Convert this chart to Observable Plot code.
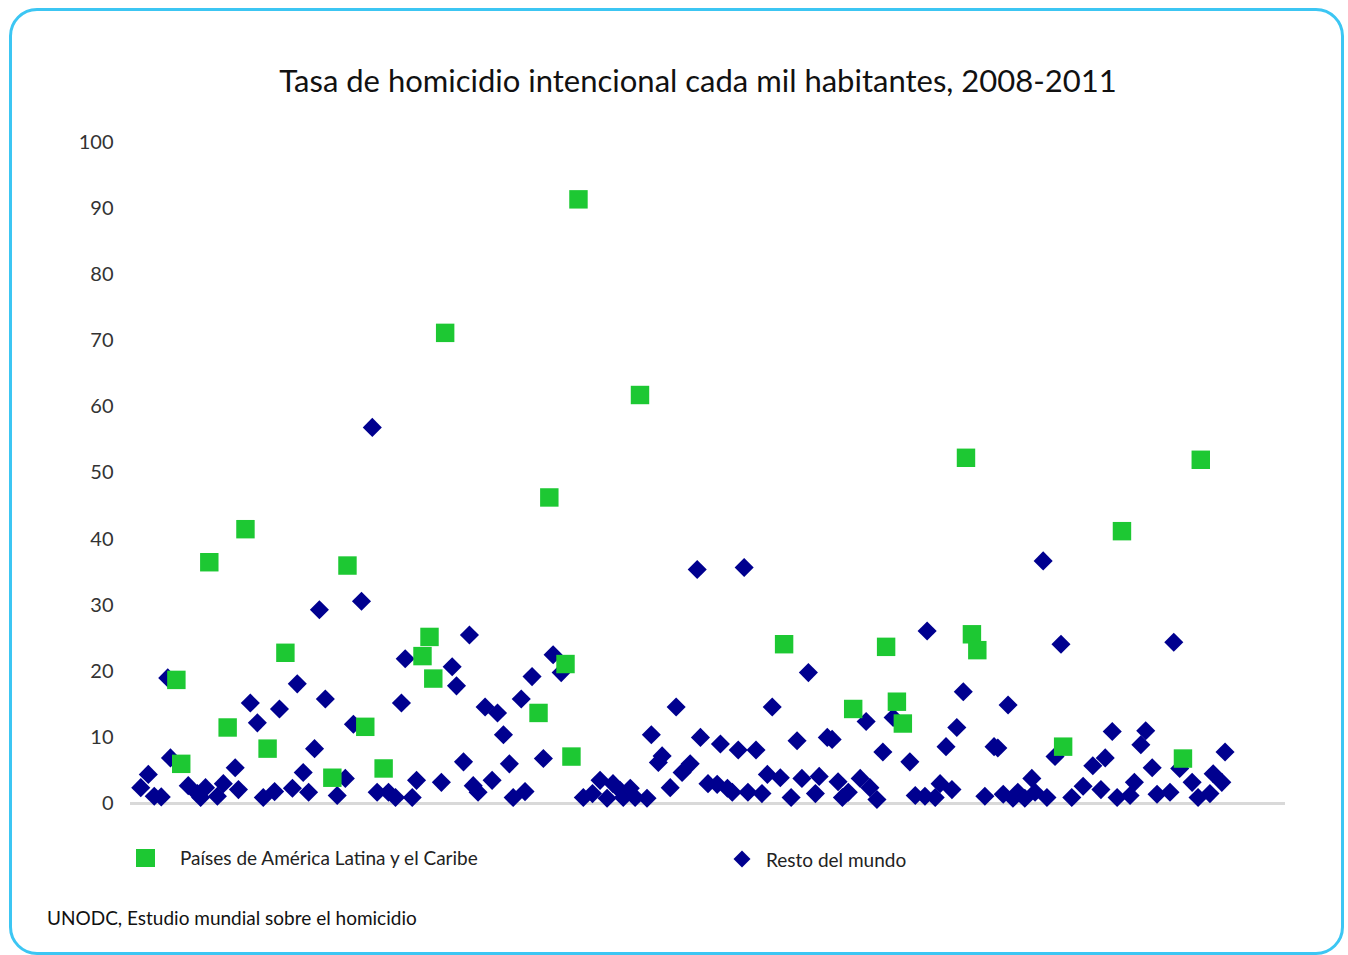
<!DOCTYPE html>
<html>
<head>
<meta charset="utf-8">
<script src="https://cdn.jsdelivr.net/npm/d3@7"></script>
<script src="https://cdn.jsdelivr.net/npm/@observablehq/plot@0.6"></script>
<style>
  html, body { margin: 0; padding: 0; background: #fff; }
  #page { position: relative; width: 1348px; height: 955px; overflow: hidden; font-family: Lato, "Open Sans", sans-serif; color: #222; }
  #frame { position: absolute; left: 9px; top: 8px; width: 1329px; height: 941px; border: 3px solid #3cc6f3; border-radius: 28px; }
  #title { position: absolute; left: 0; width: 1396px; top: 61px; text-align: center; font-size: 31px; color: #111; white-space: nowrap; }
  #chart { position: absolute; left: 0; top: 120px; }
  .leg { position: absolute; font-size: 19px; color: #222; white-space: nowrap; }
  #footer { position: absolute; left: 47px; top: 906px; font-size: 19px; color: #111; white-space: nowrap; }
  .sq { position: absolute; width: 19px; height: 18px; background: #1dc833; }
  .dm { position: absolute; width: 12px; height: 12px; background: #00008f; transform: rotate(45deg); }
</style>
</head>
<body>
<div id="page">
  <div id="frame"></div>
  <div id="title">Tasa de homicidio intencional cada mil habitantes, 2008-2011</div>
  <div id="chart"></div>
  <div class="sq" style="left:136px; top:849px;"></div>
  <div class="leg" style="left:180px; top:846px;">Países de América Latina y el Caribe</div>
  <div class="dm" style="left:736px; top:853px;"></div>
  <div class="leg" style="left:766px; top:848px;">Resto del mundo</div>
  <div id="footer">UNODC, Estudio mundial sobre el homicidio</div>
</div>
<script>
// Series: "Resto del mundo" (country position, rate)
const restoX = [1.9,3.3,4.4,5.7,6.9,7.4,10.7,12.4,13.0,13.9,16.1,17.2,19.4,20.0,22.2,23.5,24.6,26.7,27.6,30.0,
  30.9,32.0,33.0,34.1,35.0,36.1,38.3,39.8,41.3,42.8,44.8,45.7,47.8,49.1,50.2,50.9,52.2,53.0,57.6,59.6,
  60.4,61.7,62.8,63.5,64.4,65.7,67.0,68.0,69.1,70.2,70.9,72.4,73.1,74.4,76.5,78.3,79.8,83.9,85.6,87.0,
  88.3,89.4,90.7,91.3,92.6,93.5,95.7,96.5,97.8,98.5,100.0,101.1,102.2,103.7,105.0,105.6,107.0,108.7,109.3,110.6,
  111.5,112.6,113.7,114.4,115.9,117.0,118.0,118.9,120.4,122.4,123.5,124.4,125.6,126.9,127.6,129.1,130.0,131.1,131.9,133.0,
  135.2,136.3,137.0,138.3,139.4,141.3,144.4,145.4,147.2,147.6,149.1,150.0,151.1,152.2,153.1,154.3,158.3,160.0,160.7,161.7,
  162.6,163.5,164.4,165.7,167.0,167.6,169.1,169.8,171.3,172.4,174.4,176.5,178.3,179.8,180.6,181.9,182.8,185.2,186.0,187.2,
  188.1,189.3,190.2,192.6,193.3,194.4,196.7,197.8,200.0,200.6,202.2,202.8];
const restoY = [2.4,4.4,1.1,1.0,19.0,6.9,2.7,1.5,0.9,2.4,1.1,3.0,5.4,2.1,15.2,12.2,0.9,1.8,14.3,2.3,
  18.1,4.7,1.7,8.3,29.3,15.8,1.2,3.8,12.0,30.6,56.9,1.7,1.7,0.9,15.2,21.9,0.9,3.5,3.2,20.7,
  17.8,6.3,25.5,2.7,1.7,14.6,3.5,13.7,10.4,6.0,0.9,15.8,1.8,19.2,6.8,22.5,19.8,0.9,1.5,3.5,
  0.8,3.0,2.0,0.9,2.3,0.9,0.8,10.4,6.2,7.2,2.4,14.6,4.7,6.0,35.4,10.0,3.0,2.9,9.0,2.3,
  1.7,8.1,35.7,1.7,8.1,1.5,4.4,14.6,3.9,0.9,9.5,3.8,19.8,1.5,4.1,10.0,9.7,3.3,0.9,1.7,
  3.8,12.4,2.4,0.6,7.8,13.0,6.3,1.2,1.1,26.1,0.9,3.0,8.6,2.1,11.5,16.9,1.1,8.6,8.4,1.4,
  14.9,0.8,1.7,0.8,3.8,1.7,36.7,0.9,7.1,24.1,0.9,2.6,5.7,2.1,6.9,10.9,0.9,1.2,3.2,8.9,
  11.0,5.4,1.4,1.7,24.4,5.3,3.2,0.9,1.5,4.5,3.2,7.8];

// Series: "Países de América Latina y el Caribe"
const latamX = [8.5,9.4,14.6,18.0,21.3,25.4,28.7,37.4,40.2,43.5,46.9,54.1,55.4,56.1,58.3,75.6,77.6,80.6,81.7,83.0,
  94.4,121.1,133.9,140.0,142.0,143.1,154.8,155.9,156.9,172.8,183.7,195.0,198.3];
const latamY = [18.7,6.0,36.5,11.5,41.5,8.3,22.8,3.9,36.0,11.6,5.3,22.3,25.2,18.9,71.2,13.7,46.3,21.1,7.1,91.4,
  61.8,24.1,14.3,23.7,15.4,12.1,52.3,25.6,23.2,8.6,41.2,6.8,52.0];

const yTicks = [0,10,20,30,40,50,60,70,80,90,100];

const resto = restoX.map((x, i) => ({x, y: restoY[i]}));
const latam = latamX.map((x, i) => ({x, y: latamY[i]}));

const chart = Plot.plot({
  width: 1348,
  height: 720,
  marginLeft: 130,
  marginRight: 63,
  marginTop: 22,
  marginBottom: 37,
  style: {fontFamily: "Lato, 'Open Sans', sans-serif", fontSize: "20px", color: "#333", background: "transparent", overflow: "visible"},
  x: {domain: [0, 214], axis: null},
  y: {domain: [0, 100], label: null},
  marks: [
    Plot.axisY({ticks: yTicks, tickSize: 0, tickPadding: 17, fontSize: 20, fill: "#333", label: null}),
    Plot.ruleY([0], {stroke: "#d9d9d9", strokeWidth: 3}),
    Plot.dot(resto, {x: "x", y: "y", symbol: "diamond2", r: 8.6, fill: "#00008f", stroke: "none"}),
    Plot.dot(latam, {x: "x", y: "y", symbol: "square", r: 10.4, fill: "#1dc833", stroke: "none"})
  ]
});
document.getElementById("chart").appendChild(chart);
</script>
</body>
</html>
